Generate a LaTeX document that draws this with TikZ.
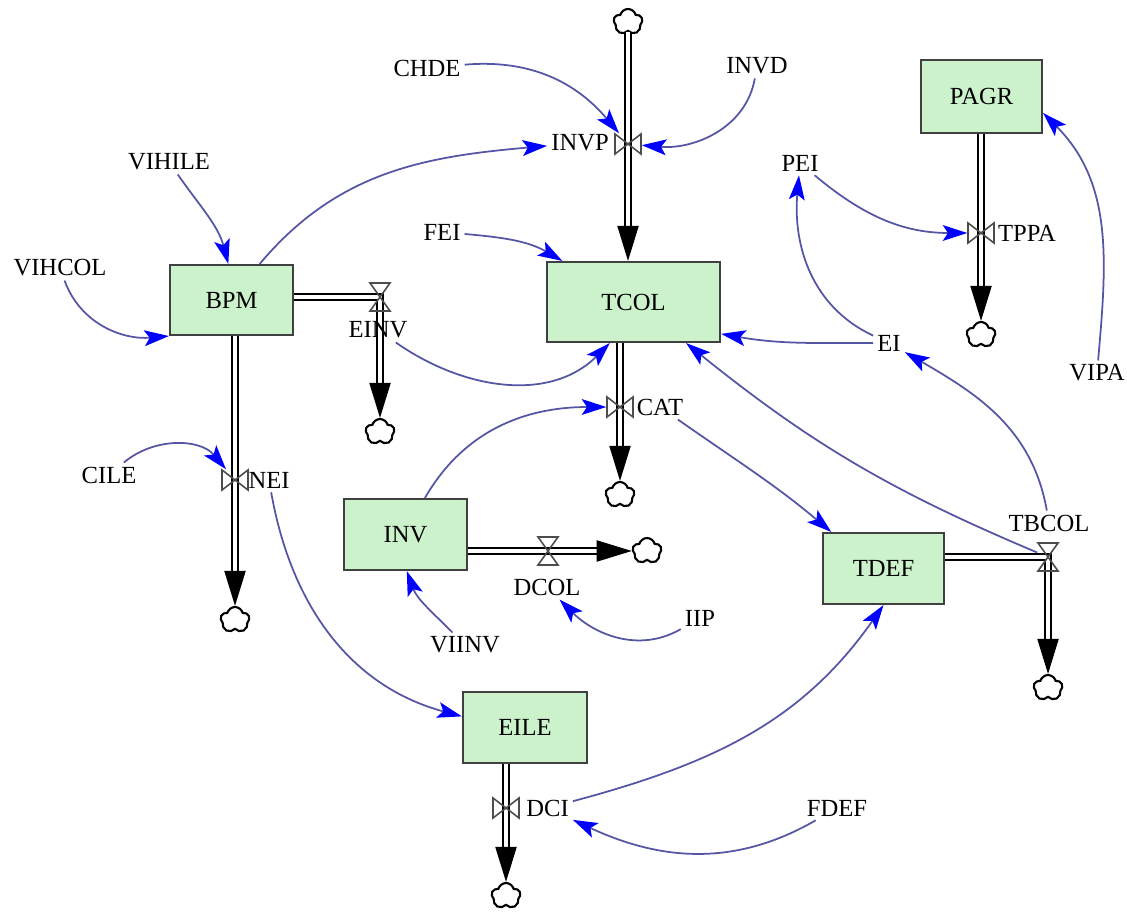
\documentclass[tikz,border=0pt]{standalone}
\usepackage{fontspec}
\setmainfont{Liberation Serif}
\usetikzlibrary{shapes,shapes.symbols,arrows.meta,positioning,calc}
\definecolor{stockgreen}{RGB}{204,242,204}
\definecolor{linkblue}{RGB}{85,85,165}
\tikzset{
  stock/.style={draw=black!75, line width=0.6pt, fill=stockgreen, font=\fontsize{7}{8}\selectfont},
  aux/.style={font=\fontsize{7}{8}\selectfont, inner sep=1pt},
  sink/.style={cloud, cloud puffs=5, draw, line width=0.6pt, minimum width=0.29cm, minimum height=0.26cm, inner sep=0pt},
  valvev/.style={minimum width=0.26cm, minimum height=0.2cm, inner sep=0pt},
  valveh/.style={minimum width=0.2cm, minimum height=0.28cm, inner sep=0pt},
  pipe/.style={draw, double, double distance=1.4pt, line width=0.55pt, -{Triangle[length=10pt,width=6pt]}},
  link/.style={draw=linkblue, line width=0.5pt, -{Stealth[length=7pt,width=4.5pt,inset=1.5pt,blue]}},
  valveline/.style={draw=black!70, line width=0.45pt}
}
\newcommand{\bowvalve}[1]{\draw[valveline] ($(#1)+(-0.13,0.1)$) -- ($(#1)+(-0.13,-0.1)$) -- ($(#1)+(0.13,0.1)$) -- ($(#1)+(0.13,-0.1)$) -- cycle;}
\newcommand{\hourvalve}[1]{\draw[valveline] ($(#1)+(-0.1,0.14)$) -- ($(#1)+(0.1,0.14)$) -- ($(#1)+(-0.1,-0.14)$) -- ($(#1)+(0.1,-0.14)$) -- cycle;}
\begin{document}
\begin{tikzpicture}
\useasboundingbox (0,0) rectangle (11.27,-9.13);
% stocks
\node[stock, minimum width=1.21cm, minimum height=0.73cm] (PAGR) at (9.815,-0.965) {PAGR};
\node[stock, minimum width=1.23cm, minimum height=0.70cm] (BPM) at (2.315,-3.0) {BPM};
\node[stock, minimum width=1.73cm, minimum height=0.80cm] (TCOL) at (6.335,-3.02) {TCOL};
\node[stock, minimum width=1.23cm, minimum height=0.71cm] (INV) at (4.055,-5.345) {INV};
\node[stock, minimum width=1.21cm, minimum height=0.71cm] (TDEF) at (8.835,-5.685) {TDEF};
\node[stock, minimum width=1.24cm, minimum height=0.71cm] (EILE) at (5.25,-7.275) {EILE};

% clouds
\node[sink] (cINVP) at (6.28,-0.22) {};
\node[sink] (cEINV) at (3.80,-4.32) {};
\node[sink] (cNEI) at (2.35,-6.2) {};
\node[sink] (cCAT) at (6.2,-4.95) {};
\node[sink] (cDCOL) at (6.47,-5.51) {};
\node[sink] (cTBCOL) at (10.48,-6.88) {};
\node[sink] (cTPPA) at (9.81,-3.35) {};
\node[sink] (cDCI) at (5.06,-8.96) {};

% pipes
\draw[pipe] (cINVP.south) -- (cINVP.south |- TCOL.north);
\draw[pipe] ($(BPM.east)+(0,0.03)$) -| (cEINV.north);
\draw[pipe] (cNEI.north |- BPM.south) -- (cNEI.north);
\draw[pipe] (cCAT.north |- TCOL.south) -- (cCAT.north);
\draw[pipe] (cDCOL.west -| INV.east) -- (cDCOL.west);
\draw[pipe] ($(TDEF.east)+(0,0.115)$) -| (cTBCOL.north);
\draw[pipe] (cTPPA.north |- PAGR.south) -- (cTPPA.north);
\draw[pipe] (cDCI.north |- EILE.south) -- (cDCI.north);

% valves
\node[valvev] (vINVP) at (6.28,-1.44) {};  \bowvalve{vINVP}
\node[valveh] (vEINV) at (3.80,-2.97) {};  \hourvalve{vEINV}
\node[valvev] (vNEI) at (2.35,-4.80) {};   \bowvalve{vNEI}
\node[valvev] (vCAT) at (6.20,-4.07) {};   \bowvalve{vCAT}
\node[valveh] (vDCOL) at (5.48,-5.51) {};  \hourvalve{vDCOL}
\node[valveh] (vTBCOL) at (10.48,-5.57) {}; \hourvalve{vTBCOL}
\node[valvev] (vTPPA) at (9.81,-2.33) {};  \bowvalve{vTPPA}
\node[valvev] (vDCI) at (5.06,-8.08) {};   \bowvalve{vDCI}

% flow labels
\node[aux] (lINVP) at (5.8,-1.43) {INVP};
\node[aux] (lEINV) at (3.78,-3.30) {EINV};
\node[aux] (lNEI) at (2.69,-4.80) {NEI};
\node[aux] (lCAT) at (6.6,-4.07) {CAT};
\node[aux] (lDCOL) at (5.47,-5.87) {DCOL};
\node[aux] (lTBCOL) at (10.49,-5.23) {TBCOL};
\node[aux] (lTPPA) at (10.27,-2.33) {TPPA};
\node[aux] (lDCI) at (5.475,-8.08) {DCI};

% auxiliaries
\node[aux] (CHDE) at (4.27,-0.68) {CHDE};
\node[aux] (INVD) at (7.57,-0.66) {INVD};
\node[aux] (VIHILE) at (1.69,-1.62) {VIHILE};
\node[aux] (PEI) at (8.0,-1.63) {PEI};
\node[aux] (VIHCOL) at (0.6,-2.68) {VIHCOL};
\node[aux] (FEI) at (4.42,-2.32) {FEI};
\node[aux] (EI) at (8.89,-3.43) {EI};
\node[aux] (VIPA) at (10.97,-3.73) {VIPA};
\node[aux] (CILE) at (1.09,-4.75) {CILE};
\node[aux] (IIP) at (7.0,-6.18) {IIP};
\node[aux] (VIINV) at (4.65,-6.45) {VIINV};
\node[aux] (FDEF) at (8.37,-8.08) {FDEF};

% links
\draw[link] (CHDE) to[out=5,in=130] (vINVP);
\draw[link] (INVD) to[out=-100,in=-5] (vINVP);
\draw[link] (BPM.52) to[out=50,in=185] (lINVP);
\draw[link] (VIHILE) to[out=-55,in=105] (BPM.95);
\draw[link] (VIHCOL) to[out=-70,in=185] (BPM.south west);
\draw[link] (FEI) to[out=-5,in=150] (TCOL.150);
\draw[link] (lEINV) to[out=-35,in=-135] (TCOL.-120);
\draw[link] (EI) to[out=180,in=-10] (TCOL.-20);
\draw[link] (EI) to[out=155,in=-95] (PEI);
\draw[link] (PEI) to[out=-40,in=180] (vTPPA);
\draw[link] (VIPA) to[out=85,in=-45] (PAGR.-15);
\draw[link] (lTBCOL) to[out=100,in=-30] (EI);
\draw[link] (vTBCOL) to[bend left=8] (TCOL.-38);
\draw[link] (INV.62) to[out=60,in=180] (vCAT);
\draw[link] (lCAT) to[out=-35,in=140] (TDEF.145);
\draw[link] (CILE) to[out=40,in=130] (vNEI);
\draw[link] (lNEI) to[out=-80,in=165] (EILE.170);
\draw[link] (VIINV) to[out=135,in=-70] (INV.-88);
\draw[link] (IIP) to[out=-150,in=-45] (lDCOL);
\draw[link] (lDCI) to[out=15,in=-125] (TDEF.south);
\draw[link] (FDEF) to[out=-150,in=-25] (lDCI);
\end{tikzpicture}
\end{document}
